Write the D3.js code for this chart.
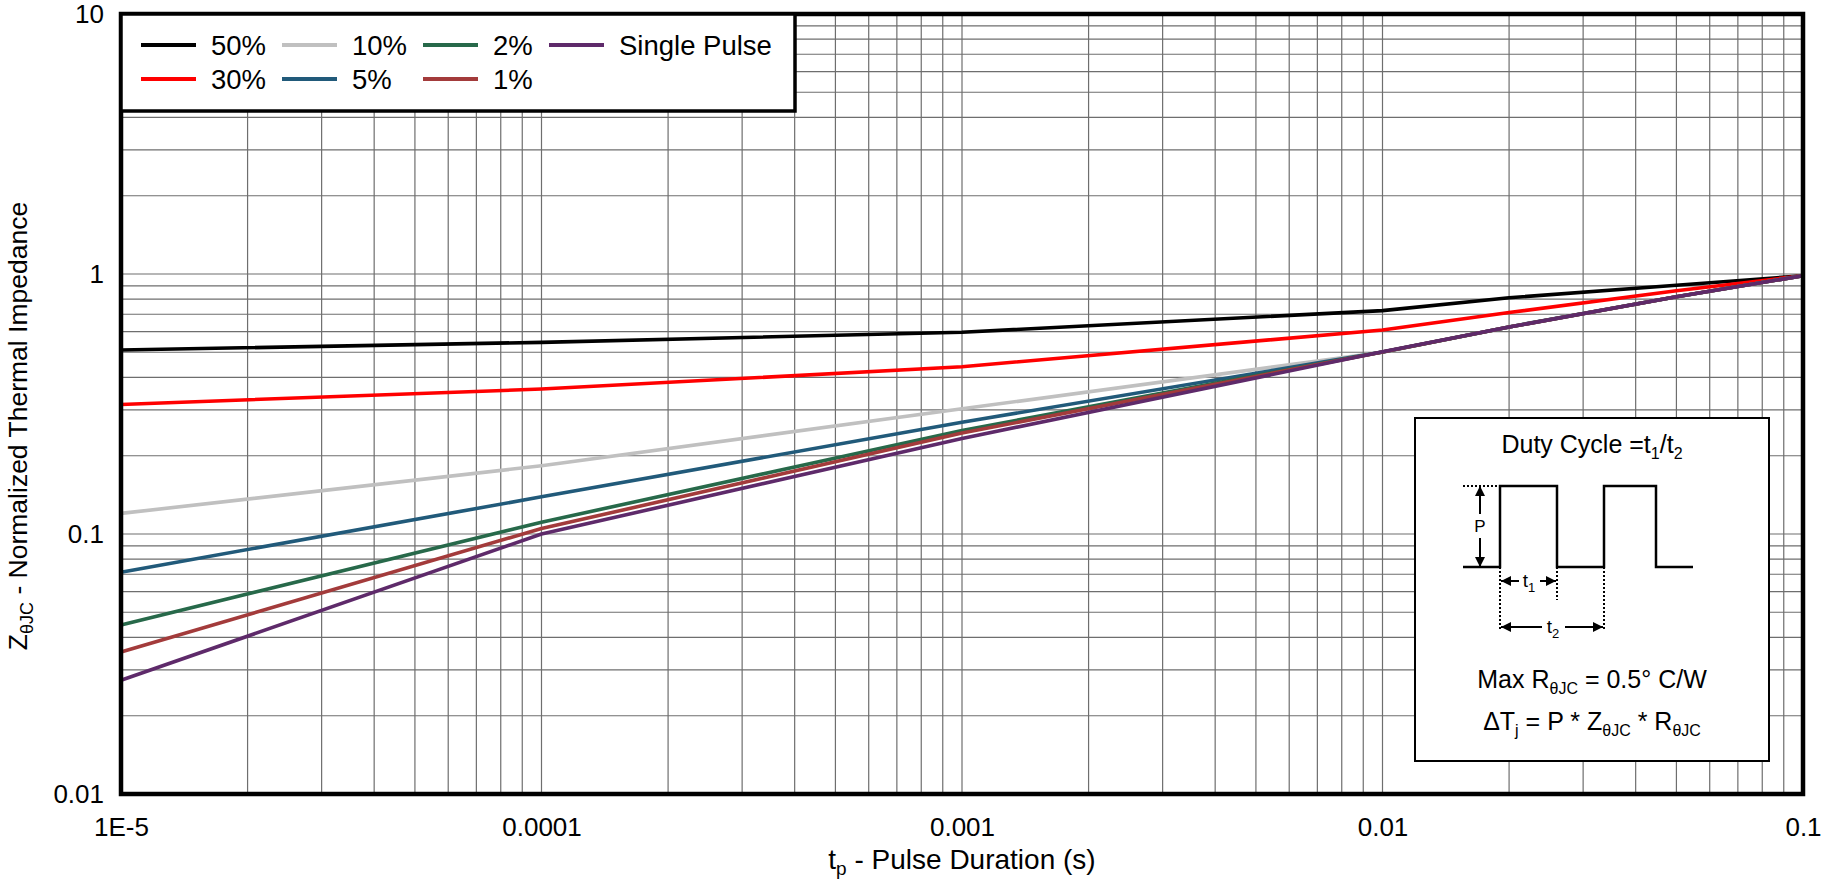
<!DOCTYPE html>
<html><head><meta charset="utf-8">
<script src="https://cdn.jsdelivr.net/npm/d3@7/dist/d3.min.js"></script>
<style>
body{margin:0;background:#fff}
svg{display:block}
text{font-family:"Liberation Sans",Arial,Helvetica,sans-serif;fill:#000}
</style>
</head><body>
<svg id="chart" width="1821" height="881"></svg>
<script>
// ---------------- data ----------------
const pulseDuration = [1e-5, 1e-4, 1e-3, 1e-2, 2e-2, 5e-2, 1e-1];
const seriesNames = ["50%", "30%", "10%", "5%", "2%", "1%", "Single Pulse"];
const duty50 = [0.510, 0.546, 0.597, 0.723, 0.810, 0.905, 0.985];
const duty30 = [0.315, 0.361, 0.440, 0.609, 0.711, 0.862, 0.985];
const duty10 = [0.120, 0.183, 0.303, 0.500, 0.626, 0.818, 0.985];
const duty5  = [0.0713, 0.139, 0.269, 0.501, 0.626, 0.818, 0.985];
const duty2  = [0.0447, 0.111, 0.250, 0.501, 0.625, 0.818, 0.985];
const duty1  = [0.0352, 0.105, 0.2446, 0.501, 0.625, 0.818, 0.985];
const singlePulse = [0.0274, 0.100, 0.233, 0.502, 0.625, 0.818, 0.985];
const xTickValues = [1e-5, 1e-4, 1e-3, 1e-2, 1e-1];
const xTickLabels = ["1E-5", "0.0001", "0.001", "0.01", "0.1"];
const yTickValues = [0.01, 0.1, 1, 10];
const yTickLabels = ["0.01", "0.1", "1", "10"];
const seriesColors = ["#000000", "#ff0000", "#c0c0c0", "#215a7a", "#27694a", "#a33b3b", "#5e2a6a"];

const seriesValues = [duty50, duty30, duty10, duty5, duty2, duty1, singlePulse];

// ---------------- layout ----------------
const svg = d3.select("#chart");
const L = 121, R = 1803, T = 14, B = 794;
const x = d3.scaleLog().domain([1e-5, 0.1]).range([L, R]);
const y = d3.scaleLog().domain([0.01, 10]).range([B, T]);

svg.append("rect").attr("width", 1821).attr("height", 881).attr("fill", "#fff");

// grid
const grid = svg.append("g");
grid.selectAll("line.vx").data(x.ticks()).join("line")
  .attr("x1", d => x(d)).attr("x2", d => x(d)).attr("y1", T).attr("y2", B)
  .attr("stroke", "#6e6e6e").attr("stroke-width", 1.2);
grid.selectAll("line.hy").data(y.ticks()).join("line")
  .attr("y1", d => y(d)).attr("y2", d => y(d)).attr("x1", L).attr("x2", R)
  .attr("stroke", "#6e6e6e").attr("stroke-width", 1.2);

// series
const line = d3.line().x(d => x(d[0])).y(d => y(d[1]));
seriesValues.forEach((vals, i) => {
  svg.append("path")
    .datum(pulseDuration.map((t, j) => [t, vals[j]]))
    .attr("d", line).attr("fill", "none")
    .attr("stroke", seriesColors[i]).attr("stroke-width", 3.6)
    .attr("stroke-linejoin", "round");
});

// frame
svg.append("rect").attr("x", L).attr("y", T).attr("width", R - L).attr("height", B - T)
  .attr("fill", "none").attr("stroke", "#000").attr("stroke-width", 4.5);

// axes
const xAxis = svg.append("g").attr("transform", `translate(0,${B})`)
  .call(d3.axisBottom(x).tickValues(xTickValues).tickFormat((d, i) => xTickLabels[i]).tickSize(0).tickPadding(24));
xAxis.select(".domain").remove();
xAxis.selectAll("text").attr("font-size", 26).attr("font-family", "Liberation Sans, Arial, sans-serif").attr("fill", "#000");

const yAxis = svg.append("g").attr("transform", `translate(${L},0)`)
  .call(d3.axisLeft(y).tickValues(yTickValues).tickFormat((d, i) => yTickLabels[i]).tickSize(0).tickPadding(17));
yAxis.select(".domain").remove();
yAxis.selectAll("text").attr("font-size", 26).attr("font-family", "Liberation Sans, Arial, sans-serif").attr("fill", "#000");

// axis titles
const xt = svg.append("text").attr("x", (L + R) / 2).attr("y", 869).attr("text-anchor", "middle").attr("font-size", 28);
xt.append("tspan").text("t");
xt.append("tspan").attr("font-size", 19).attr("dy", 6).text("p");
xt.append("tspan").attr("dy", -6).text(" - Pulse Duration (s)");

const yt = svg.append("text").attr("transform", "translate(27,426) rotate(-90)").attr("text-anchor", "middle").attr("font-size", 26.5);
yt.append("tspan").text("Z");
yt.append("tspan").attr("font-size", 18).attr("dy", 6).text("θJC");
yt.append("tspan").attr("dy", -6).text(" - Normalized Thermal Impedance");

// legend
svg.append("rect").attr("x", L).attr("y", T).attr("width", 674).attr("height", 97)
  .attr("fill", "#fff").attr("stroke", "#000").attr("stroke-width", 3.5);
const colX = [141, 282, 423, 549];
const rowY = [45, 79];
seriesNames.forEach((name, i) => {
  const c = Math.floor(i / 2), r = i % 2;
  const g = svg.append("g").attr("transform", `translate(${colX[c]},${rowY[r]})`);
  g.append("line").attr("x1", 0).attr("x2", 55).attr("stroke", seriesColors[i]).attr("stroke-width", 4);
  g.append("text").attr("x", 70).attr("dy", "0.35em").attr("font-size", 27.5).text(name);
});

// inset box
const bx = 1415, by = 418;
const inset = svg.append("g").attr("transform", `translate(${bx},${by})`);
inset.append("rect").attr("width", 354).attr("height", 343).attr("fill", "#fff").attr("stroke", "#000").attr("stroke-width", 2);

const defs = svg.append("defs");
defs.append("marker").attr("id", "ah").attr("viewBox", "0 0 10 10").attr("refX", 10).attr("refY", 5)
  .attr("markerWidth", 10).attr("markerHeight", 10).attr("markerUnits", "userSpaceOnUse").attr("orient", "auto")
  .append("path").attr("d", "M0,0 L10,5 L0,10 Z").attr("fill", "#000");

const t1 = inset.append("text").attr("x", 177).attr("y", 35).attr("text-anchor", "middle").attr("font-size", 25);
t1.append("tspan").text("Duty Cycle =t");
t1.append("tspan").attr("font-size", 16).attr("dy", 6).text("1");
t1.append("tspan").attr("dy", -6).text("/t");
t1.append("tspan").attr("font-size", 16).attr("dy", 6).text("2");

// waveform
inset.append("path").attr("d", "M48,149 H85 V68 H142 V149 H189 V68 H241 V149 H278")
  .attr("fill", "none").attr("stroke", "#000").attr("stroke-width", 2.5);
const dot = (x1, y1, x2, y2) => inset.append("line").attr("x1", x1).attr("y1", y1).attr("x2", x2).attr("y2", y2)
  .attr("stroke", "#000").attr("stroke-width", 2).attr("stroke-dasharray", "2,2");
dot(48, 68, 85, 68);
dot(85, 149, 85, 212);
dot(142, 149, 142, 182);
dot(189, 149, 189, 212);
const arrow = (x1, y1, x2, y2) => inset.append("line").attr("x1", x1).attr("y1", y1).attr("x2", x2).attr("y2", y2)
  .attr("stroke", "#000").attr("stroke-width", 2).attr("marker-end", "url(#ah)");
arrow(65, 96, 65, 68);
arrow(65, 120, 65, 149);
inset.append("text").attr("x", 65).attr("y", 108).attr("dy", "0.35em").attr("text-anchor", "middle").attr("font-size", 17).text("P");
arrow(104, 163, 86, 163);
arrow(125, 163, 141, 163);
const tl1 = inset.append("text").attr("x", 114).attr("y", 169).attr("text-anchor", "middle").attr("font-size", 19);
tl1.append("tspan").text("t"); tl1.append("tspan").attr("font-size", 13).attr("dy", 5).text("1");
arrow(127, 209, 86, 209);
arrow(150, 209, 188, 209);
const tl2 = inset.append("text").attr("x", 138).attr("y", 215).attr("text-anchor", "middle").attr("font-size", 19);
tl2.append("tspan").text("t"); tl2.append("tspan").attr("font-size", 13).attr("dy", 5).text("2");

const m1 = inset.append("text").attr("x", 177).attr("y", 270).attr("text-anchor", "middle").attr("font-size", 25);
m1.append("tspan").text("Max R");
m1.append("tspan").attr("font-size", 16).attr("dy", 6).text("θJC");
m1.append("tspan").attr("dy", -6).text(" = 0.5° C/W");

const m2 = inset.append("text").attr("x", 177).attr("y", 312).attr("text-anchor", "middle").attr("font-size", 25);
m2.append("tspan").text("ΔT");
m2.append("tspan").attr("font-size", 16).attr("dy", 6).text("j");
m2.append("tspan").attr("dy", -6).text(" = P * Z");
m2.append("tspan").attr("font-size", 16).attr("dy", 6).text("θJC");
m2.append("tspan").attr("dy", -6).text(" * R");
m2.append("tspan").attr("font-size", 16).attr("dy", 6).text("θJC");
</script>
</body></html>
